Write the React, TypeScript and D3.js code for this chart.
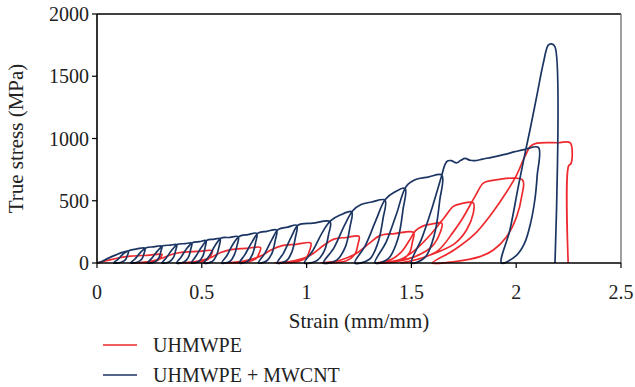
import React from 'react';
import * as d3 from 'd3';

const xTicks = [0, 0.5, 1, 1.5, 2, 2.5];
const yTicks = [0, 500, 1000, 1500, 2000];
const seriesNames = ['UHMWPE', 'UHMWPE + MWCNT'];
const seriesColors = ['#ee2a2e', '#1b3563'];

// strain (mm/mm), true stress (MPa)
const uhmwpe: [number, number][] = [
  [0, 0], [0.05, 20], [0.1, 40], [0.16, 55], [0.24, 62], [0.31, 68],
  [0.305, 48], [0.29, 22], [0.25, 6], [0.17, 0],
  [0.25, 12], [0.31, 38], [0.36, 70], [0.41, 87], [0.48, 93], [0.55, 98],
  [0.545, 66], [0.53, 30], [0.49, 8], [0.39, 0],
  [0.47, 12], [0.54, 42], [0.59, 85], [0.64, 108], [0.71, 117], [0.78, 124],
  [0.775, 85], [0.76, 38], [0.72, 10], [0.61, 0],
  [0.7, 15], [0.78, 55], [0.83, 105], [0.88, 138], [0.95, 150], [1.02, 160],
  [1.015, 105], [1.0, 48], [0.96, 12], [0.85, 0],
  [0.94, 18], [1.02, 65], [1.08, 140], [1.13, 192], [1.19, 205], [1.25, 214],
  [1.245, 150], [1.23, 70], [1.19, 18], [1.07, 0],
  [1.16, 22], [1.24, 80], [1.3, 160], [1.35, 220], [1.42, 236], [1.51, 246],
  [1.505, 170], [1.49, 80], [1.45, 20], [1.33, 0],
  [1.4, 25], [1.45, 85], [1.49, 180], [1.52, 260], [1.56, 300], [1.6, 314], [1.645, 320],
  [1.636, 239], [1.597, 131], [1.517, 51], [1.42, 10], [1.36, 0],
  [1.45, 30], [1.517, 104], [1.597, 239], [1.66, 372], [1.7, 455], [1.74, 478], [1.795, 483],
  [1.795, 398], [1.763, 265], [1.708, 158], [1.612, 78], [1.517, 24], [1.45, 0],
  [1.55, 40], [1.63, 104], [1.7, 250], [1.74, 347], [1.803, 533], [1.843, 642], [1.88, 662], [2.03, 668],
  [2.026, 533], [2.002, 372], [1.954, 211], [1.891, 104], [1.827, 51], [1.7, 10], [1.6, 0],
  [1.7, 100], [1.8, 230], [1.88, 390], [1.95, 560], [2.0, 700], [2.04, 850], [2.07, 940], [2.1, 963],
  [2.2, 966], [2.257, 966], [2.262, 800], [2.25, 780], [2.248, 0],
];

// strain (mm/mm), true stress (MPa)
const mwcnt: [number, number][] = [
  [0, 0], [0.02, 10], [0.05, 35], [0.09, 65], [0.12, 85], [0.15, 95],
  [0.145, 60], [0.135, 25], [0.115, 6], [0.08, 0],
  [0.1, 30], [0.13, 80], [0.16, 103], [0.19, 113], [0.229, 120],
  [0.225, 80], [0.215, 35], [0.195, 8], [0.16, 0],
  [0.18, 30], [0.21, 90], [0.235, 122], [0.27, 130], [0.309, 136],
  [0.305, 95], [0.295, 40], [0.275, 8], [0.24, 0],
  [0.26, 35], [0.29, 100], [0.315, 138], [0.35, 143], [0.38, 147],
  [0.375, 100], [0.365, 45], [0.345, 10], [0.31, 0],
  [0.33, 40], [0.36, 110], [0.385, 150], [0.42, 155], [0.452, 160],
  [0.447, 110], [0.437, 50], [0.417, 10], [0.38, 0],
  [0.4, 45], [0.43, 120], [0.455, 163], [0.49, 172], [0.52, 180],
  [0.515, 120], [0.505, 55], [0.485, 12], [0.45, 0],
  [0.47, 50], [0.5, 130], [0.525, 183], [0.555, 190], [0.587, 196],
  [0.582, 130], [0.57, 60], [0.55, 12], [0.51, 0],
  [0.535, 55], [0.565, 145], [0.592, 200], [0.63, 205], [0.674, 211],
  [0.668, 140], [0.655, 65], [0.635, 14], [0.595, 0],
  [0.62, 60], [0.65, 155], [0.68, 215], [0.72, 228], [0.762, 238],
  [0.756, 160], [0.743, 75], [0.72, 15], [0.68, 0],
  [0.705, 65], [0.74, 170], [0.77, 242], [0.81, 254], [0.857, 265],
  [0.85, 180], [0.835, 80], [0.81, 18], [0.77, 0],
  [0.8, 75], [0.835, 190], [0.865, 270], [0.91, 288], [0.953, 302],
  [0.946, 200], [0.93, 90], [0.905, 20], [0.86, 0],
  [0.89, 80], [0.93, 220], [0.96, 305], [1.03, 320], [1.112, 332],
  [1.105, 230], [1.085, 100], [1.05, 20], [0.99, 0],
  [1.03, 100], [1.08, 260], [1.115, 340], [1.16, 385], [1.215, 412],
  [1.207, 290], [1.185, 130], [1.145, 25], [1.08, 0],
  [1.13, 120], [1.18, 300], [1.22, 420], [1.26, 470], [1.31, 490], [1.374, 506],
  [1.365, 360], [1.34, 160], [1.3, 30], [1.23, 0],
  [1.28, 140], [1.33, 340], [1.375, 510], [1.42, 570], [1.47, 600],
  [1.46, 430], [1.435, 190], [1.39, 35], [1.326, 0],
  [1.38, 170], [1.43, 400], [1.475, 615], [1.52, 670], [1.58, 690], [1.645, 707],
  [1.635, 500], [1.61, 230], [1.565, 45], [1.5, 0],
  [1.55, 200], [1.6, 450], [1.645, 705], [1.66, 790], [1.672, 820], [1.69, 822], [1.716, 805],
  [1.736, 825], [1.756, 840], [1.78, 825], [1.803, 822], [1.84, 835], [1.883, 849], [1.94, 870],
  [1.994, 894], [2.042, 913], [2.106, 929],
  [2.1, 700], [2.09, 520], [2.07, 330], [2.04, 160], [2.0, 60], [1.93, 0],
  [1.97, 265], [2.01, 613], [2.047, 921], [2.066, 1070], [2.098, 1340], [2.13, 1610], [2.153, 1750],
  [2.169, 1760], [2.185, 1737], [2.185, 0],
];

const W = 635;
const H = 387;
const left = 97;
const right = 621;
const top = 14;
const bottom = 263;
const font = '"Liberation Serif", "DejaVu Serif", serif';

export default function App() {
  const x = d3.scaleLinear().domain([0, 2.5]).range([left, right]);
  const y = d3.scaleLinear().domain([0, 2000]).range([bottom, top]);
  const line = d3
    .line<[number, number]>()
    .x((d) => x(d[0]))
    .y((d) => y(d[1]))
    .curve(d3.curveCatmullRom.alpha(0.5));
  const series = [uhmwpe, mwcnt];

  return (
    <svg
      width={W}
      height={H}
      style={{ position: 'absolute', left: 0, top: 0, background: '#fff' }}
      fontFamily={font}
    >
      <rect x={0} y={0} width={W} height={H} fill="#fff" />
      <line x1={left} x2={right} y1={top} y2={top} stroke="#000" strokeWidth={1.6} />
      <line x1={right} x2={right} y1={top} y2={bottom} stroke="#777" strokeWidth={1.4} />
      {series.map((s, i) => (
        <path
          key={i}
          d={line(s) || ''}
          fill="none"
          stroke={seriesColors[i]}
          strokeWidth={1.7}
          strokeLinejoin="round"
        />
      ))}
      <line x1={left} x2={left} y1={top} y2={bottom} stroke="#000" strokeWidth={1.6} />
      <line x1={left} x2={right} y1={bottom} y2={bottom} stroke="#000" strokeWidth={1.6} />
      {yTicks.map((t) => (
        <g key={'y' + t}>
          <line x1={left - 5} x2={left} y1={y(t)} y2={y(t)} stroke="#000" strokeWidth={1.2} />
          <text x={left - 8} y={y(t)} dy="0.35em" textAnchor="end" fontSize={20} fill="#222">
            {t}
          </text>
        </g>
      ))}
      {xTicks.map((t) => (
        <g key={'x' + t}>
          <line x1={x(t)} x2={x(t)} y1={bottom} y2={bottom + 5} stroke="#000" strokeWidth={1.2} />
          <text x={x(t)} y={bottom + 36} textAnchor="middle" fontSize={20} fill="#222">
            {String(t)}
          </text>
        </g>
      ))}
      <text x={(left + right) / 2} y={328} textAnchor="middle" fontSize={21} fill="#222">
        Strain (mm/mm)
      </text>
      <text
        transform={`translate(23, ${(top + bottom) / 2}) rotate(-90)`}
        textAnchor="middle"
        fontSize={21}
        fill="#222"
      >
        True stress (MPa)
      </text>
      {seriesNames.map((n, i) => (
        <g key={n} transform={`translate(0, ${345 + i * 30})`}>
          <line x1={103} x2={137} y1={0} y2={0} stroke={seriesColors[i]} strokeWidth={1.7} />
          <text x={153} y={0} dy="0.33em" fontSize={20} fill="#222">
            {n}
          </text>
        </g>
      ))}
    </svg>
  );
}
